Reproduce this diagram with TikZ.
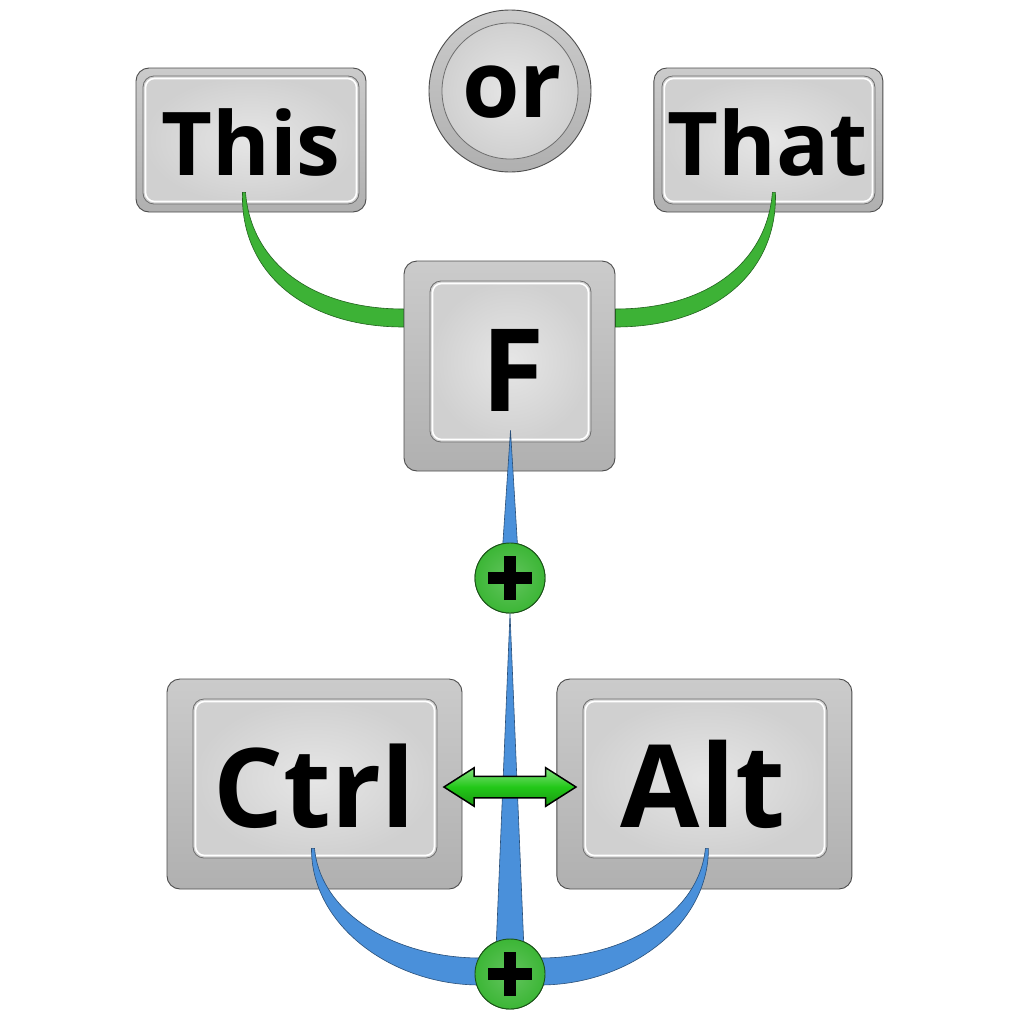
\documentclass[tikz,border=0pt]{standalone}
\usepackage{fontspec}
\setmainfont{Open Sans}
\usetikzlibrary{calc,positioning,shapes.arrows}

\definecolor{keyline}{HTML}{4D4D4D}
\definecolor{keytop}{HTML}{CBCBCB}
\definecolor{keybot}{HTML}{B0B0B0}
\definecolor{capline}{HTML}{6E6E6E}
\definecolor{caplight}{HTML}{E6E6E6}
\definecolor{capdark}{HTML}{D0D0D0}
\definecolor{linkgreen}{HTML}{3DB236}
\definecolor{linkblue}{HTML}{4A90DA}
\definecolor{plusgreen}{HTML}{3CB636}
\definecolor{arrowgreen}{HTML}{22C818}

\tikzset{
  keybase/.style={draw=keyline, line width=0.9pt, rounded corners=13pt,
    top color=keytop, bottom color=keybot, inner sep=0pt},
  keycap/.style={draw=capline, line width=0.8pt, rounded corners=11pt,
    inner color=caplight, outer color=capdark, inner sep=0pt,
    path picture={\draw[white, line width=1.6pt, rounded corners=9pt]
      ([shift={(2.5pt,2.5pt)}]path picture bounding box.south west) rectangle
      ([shift={(-2.5pt,-2.5pt)}]path picture bounding box.north east);}},
  keylabel/.style={anchor=base, inner sep=0pt, font=\bfseries\fontsize{115}{115}\selectfont},
  smalllabel/.style={keylabel, font=\bfseries\fontsize{88}{88}\selectfont},
  greenlink/.style={fill=linkgreen, draw=linkgreen!55!black, line width=0.6pt},
  bluelink/.style={fill=linkblue, draw=linkblue!55!black, line width=0.6pt},
  plusdot/.style={circle, minimum size=70pt, inner sep=0pt, draw=plusgreen!45!black,
    line width=0.9pt, inner color=plusgreen!80!white, outer color=plusgreen,
    path picture={\draw[black, line width=12pt]
      ([xshift=-22pt]path picture bounding box.center) -- ([xshift=22pt]path picture bounding box.center)
      ([yshift=-22pt]path picture bounding box.center) -- ([yshift=22pt]path picture bounding box.center);}},
  swaparrow/.style={double arrow, draw=black, line width=1.5pt, inner sep=10pt,
    double arrow head extend=8.5pt, double arrow tip angle=65, minimum height=132pt,
    top color=arrowgreen!55!white, bottom color=arrowgreen!75!black, middle color=arrowgreen}
}

\begin{document}
\begin{tikzpicture}[x=1pt, y=-1pt, node distance=94pt]
  \fill[white] (0,0) rectangle (1020,1020);

  % top row
  \node[keybase, minimum width=230pt, minimum height=144pt] (this) at (251,140) {};
  \node[keycap, minimum width=216pt, minimum height=128pt] (this-in) at (this) {};
  \node[keybase, minimum width=229pt, minimum height=144pt] (that) [right=287pt of this] {};
  \node[keycap, minimum width=213pt, minimum height=128pt] (that-in) at (that) {};
  \node[circle, draw=keyline, line width=0.9pt, minimum size=162pt, inner sep=0pt,
        top color=keytop, bottom color=keybot] (or) at (510,91) {};
  \node[circle, draw=capline, line width=0.8pt, minimum size=136pt, inner sep=0pt,
        inner color=caplight, outer color=capdark] (or-in) at (or) {};

  % F key
  \node[keybase, minimum width=211pt, minimum height=210pt] (f) at (509.5,366) {};
  \node[keycap, minimum width=161pt, minimum height=161pt] (f-in) at ($(f)+(1,-4.5)$) {};

  % bottom row
  \node[keybase, minimum width=295pt, minimum height=210pt] (ctrl) at (314.5,784) {};
  \node[keycap, minimum width=244pt, minimum height=159pt] (ctrl-in) at ($(ctrl)+(0.5,-5.5)$) {};
  \node[keybase, minimum width=295pt, minimum height=210pt] (alt) [right=of ctrl] {};
  \node[keycap, minimum width=244pt, minimum height=159pt] (alt-in) at ($(alt)+(0.5,-5.5)$) {};

  % labels
  \node[smalllabel] (this-t) at (251,175) {This};
  \node[smalllabel] (that-t) at (768,175) {That};
  \node[keylabel, font=\bfseries\fontsize{93}{93}\selectfont] (or-t) at (512,117) {or};
  \node[keylabel] (f-t) at (513,411) {F};
  \node[keylabel, font=\bfseries\fontsize{110}{110}\selectfont] (ctrl-t) at (314,827) {Ctrl};
  \node[keylabel] (alt-t) at (703,827) {Alt};

  \node[plusdot] (plus1) at (510,578) {};
  \node[plusdot] (plus2) at (510,974) {};

  % link ends
  \coordinate (this-tail) at ($(this-in.south)+(-7,-12)$);
  \coordinate (that-tail) at ($(that-in.south)+(5.5,-12)$);
  \coordinate (f-left) at ($(f.west)+(0,-48)$);
  \coordinate (f-right) at ($(f.east)+(0,-48)$);
  \coordinate (f-tail) at ($(f-in.south)+(0,-12)$);
  \coordinate (ctrl-tail) at ($(ctrl-in.south)+(-2,-10)$);
  \coordinate (alt-tail) at ($(alt-in.south)+(2,-10)$);

  % green links
  \fill[greenlink] ($(this-tail)+(1.5,0)$) .. controls +(5.5,70) and +(-92,0) .. ($(f-left)+(0,-9)$)
    -- ($(f-left)+(0,9)$) .. controls +(-99,0) and +(-2.5,80) .. ($(this-tail)+(-1.5,0)$) -- cycle;
  \fill[greenlink] ($(that-tail)+(-1.5,0)$) .. controls +(-5.5,70) and +(92,0) .. ($(f-right)+(0,-9)$)
    -- ($(f-right)+(0,9)$) .. controls +(99,0) and +(2.5,80) .. ($(that-tail)+(1.5,0)$) -- cycle;

  % blue links
  \fill[bluelink] (f-tail) -- ($(plus1)+(9.5,0)$) -- ($(plus1)+(-9.5,0)$) -- cycle;
  \fill[bluelink] (plus1.south) -- ($(plus2)+(15,0)$) -- ($(plus2)+(-15,0)$) -- cycle;
  \fill[bluelink] ($(ctrl-tail)+(1.5,0)$) .. controls +(6.5,67) and +(-82,0) .. ($(plus2)+(-30,-16)$)
    -- ($(plus2)+(-30,11)$) .. controls +(-88,0) and +(-0.5,77) .. ($(ctrl-tail)+(-1.5,0)$) -- cycle;
  \fill[bluelink] ($(alt-tail)+(-1.5,0)$) .. controls +(-6.5,67) and +(82,0) .. ($(plus2)+(30,-16)$)
    -- ($(plus2)+(30,11)$) .. controls +(88,0) and +(0.5,77) .. ($(alt-tail)+(1.5,0)$) -- cycle;

  % plus marks on top
  \node[plusdot] at (plus1) {};
  \node[plusdot] at (plus2) {};

  \node[swaparrow] (swap) at ($(ctrl-in.east)!0.5!(alt-in.west)+(0,8.5)$) {};
\end{tikzpicture}
\end{document}
